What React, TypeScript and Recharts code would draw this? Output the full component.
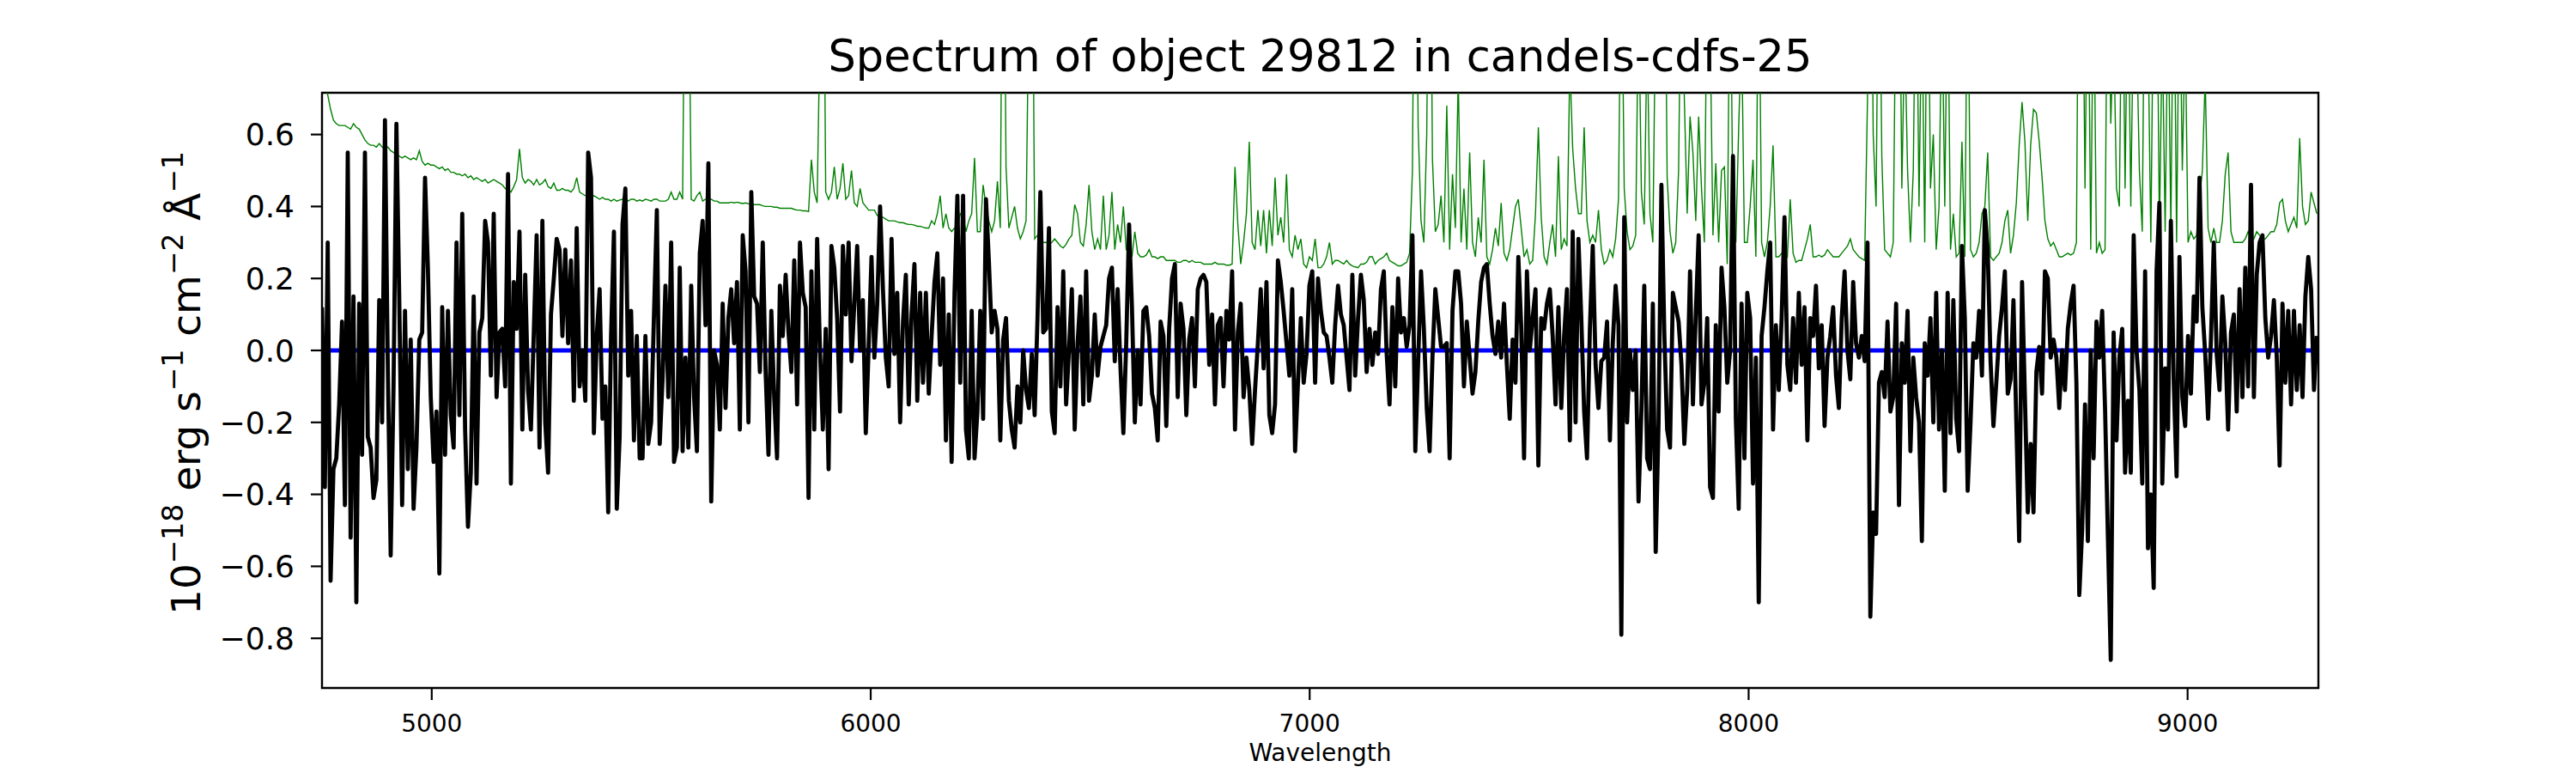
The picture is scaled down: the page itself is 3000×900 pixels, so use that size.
import { LineChart, Line, XAxis, YAxis, ReferenceArea } from 'recharts';

// wavelength grid of the extracted spectrum (Angstrom)
const WAVE_START = 4750;
const WAVE_STEP = 6.52;

const X_TICKS = [5000, 6000, 7000, 8000, 9000];
const Y_TICKS = [-0.8, -0.6, -0.4, -0.2, 0, 0.2, 0.4, 0.6];
const X_DOMAIN: [number, number] = [4750, 9298];
const Y_DOMAIN: [number, number] = [-0.938, 0.716];

// blue model line: flat at zero, starts a little after the first pixel
const MODEL_LEVEL = 0;
const MODEL_START = 4765;

// flux, 1e-18 erg/s/cm2/A in six chunks
const FLUX_A = [
  0.12, -0.38, 0.30, -0.64, -0.33, -0.30, -0.15, 0.08, -0.43, 0.55,
  -0.52, 0.15, -0.70, 0.13, -0.29, 0.55, -0.24, -0.27, -0.41, -0.36,
  0.14, -0.20, 0.64, -0.05, -0.57, -0.10, 0.63, 0.14, -0.43, 0.11,
  -0.33, 0.03, -0.44, -0.27, 0.03, 0.05, 0.48, 0.23, -0.13, -0.31,
  -0.17, -0.62, 0.12, -0.29, 0.11, -0.18, -0.27, 0.30, -0.18, 0.38,
  -0.22, -0.49, -0.34, 0.15, -0.37, 0.05, 0.09, 0.36, 0.30, -0.07,
  0.38, -0.13, 0.05, 0.06, -0.10, 0.49, -0.37, 0.19, 0.06, 0.33,
  -0.22, 0.21, -0.11, -0.22, 0.05, 0.32, -0.27, 0.36, -0.20, -0.34,
  0.10, 0.20, 0.31, 0.28, 0.04, 0.28, 0.02, 0.25, -0.14, 0.34,
  -0.10, 0.00, -0.14, 0.55, 0.48, -0.23, 0.04, 0.17, -0.19, -0.10,
  -0.45, 0.04, 0.33, -0.44, -0.24, 0.35, 0.45, -0.07, 0.11, -0.25,
  0.04, -0.30, -0.30, 0.04, -0.26, -0.20,
];
const FLUX_B = [
  0.10, 0.39, -0.26, -0.08, 0.18, -0.13, 0.30, -0.31, -0.27, 0.23,
  -0.28, -0.02, -0.27, 0.18, -0.13, -0.28, 0.27, 0.36, 0.07, 0.52,
  -0.42, 0.00, -0.04, -0.22, 0.13, -0.16, 0.09, 0.17, 0.02, 0.19,
  -0.22, 0.32, 0.22, -0.20, 0.44, 0.15, 0.13, -0.06, 0.30, -0.06,
  -0.29, 0.11, -0.13, -0.30, 0.18, 0.04, 0.21, 0.05, -0.06, 0.25,
  -0.15, 0.30, 0.16, 0.12, -0.41, 0.22, -0.22, 0.31, 0.00, -0.22,
  0.06, -0.33, 0.29, 0.23, 0.09, -0.17, 0.29, 0.10, 0.30, -0.03,
  0.13, 0.29, 0.00, 0.14, -0.23, 0.01, 0.26, -0.02, 0.13, 0.40,
  0.17, -0.02, -0.10, 0.31, -0.01, 0.16, -0.20, 0.08, 0.21, -0.15,
  0.10, 0.24, -0.14, 0.16, -0.09, 0.16, -0.12, 0.04, 0.19, 0.27,
  -0.04, 0.20, -0.25, 0.10, -0.31, 0.16, 0.43, -0.09, 0.43, -0.22,
  -0.30, 0.11, -0.30, -0.17, 0.11, -0.19, 0.42,
];
const FLUX_C = [
  0.25, 0.05, 0.11, 0.06, -0.25, 0.03, 0.09, -0.14, -0.22, -0.27,
  -0.10, -0.20, 0.00, -0.11, -0.16, -0.01, -0.18, 0.09, 0.44, 0.05,
  0.06, 0.34, -0.17, -0.23, 0.12, -0.10, 0.22, -0.15, 0.00, 0.17,
  -0.22, 0.02, 0.15, -0.15, 0.22, -0.14, -0.07, 0.10, -0.07, 0.01,
  0.04, 0.07, 0.20, 0.23, -0.03, 0.17, -0.05, -0.23, 0.02, 0.35,
  0.12, -0.20, 0.00, -0.15, 0.11, 0.12, 0.04, -0.12, -0.16, -0.25,
  0.08, 0.04, -0.21, 0.06, 0.20, 0.24, -0.13, 0.13, 0.06, -0.18,
  0.03, 0.09, -0.10, 0.17, 0.20, 0.21, 0.19, -0.04, 0.10, -0.15,
  0.07, 0.09, -0.10, 0.11, 0.03, 0.22, -0.22, 0.05, 0.13, -0.13,
  -0.02, -0.11, -0.26, -0.11, 0.02, 0.17, -0.05, 0.19, -0.18, -0.23,
  -0.15, 0.25, 0.19, 0.11, 0.02, -0.07, 0.17, -0.28, -0.09, 0.09,
  -0.09, -0.01, 0.18, 0.22, -0.09, 0.20, 0.11,
];
const FLUX_D = [
  0.05, 0.04, -0.02, -0.09, 0.07, 0.18, 0.10, 0.07, -0.02, -0.11,
  0.21, -0.07, 0.09, 0.21, 0.14, -0.06, 0.06, -0.04, 0.05, -0.01,
  0.17, 0.22, -0.01, -0.15, 0.12, -0.10, 0.20, 0.05, 0.09, 0.01,
  0.07, 0.32, -0.28, -0.03, 0.22, 0.06, -0.16, -0.28, -0.02, 0.17,
  0.09, 0.01, 0.01, 0.02, -0.30, 0.11, 0.22, 0.22, 0.13, -0.10,
  0.08, -0.02, -0.12, -0.06, 0.08, 0.19, 0.23, 0.24, 0.13, 0.04,
  -0.01, 0.08, -0.02, 0.13, -0.04, -0.19, 0.03, -0.09, 0.26, 0.07,
  -0.30, 0.22, 0.00, 0.09, 0.17, -0.32, 0.09, 0.06, 0.13, 0.17,
  0.04, -0.15, 0.12, -0.16, 0.04, 0.17, -0.25, 0.33, -0.20, 0.31,
  0.09, -0.17, -0.30, 0.06, 0.29, -0.04, -0.16, -0.03, -0.02, 0.08,
  -0.25, 0.02, 0.18, 0.07, -0.79, 0.37, -0.20, 0.00, -0.11, 0.00,
  -0.42, -0.17, 0.18, -0.30, -0.33, 0.13, -0.56,
];
const FLUX_E = [
  -0.20, 0.46, 0.05, -0.22, -0.27, 0.16, 0.12, 0.08, -0.04, -0.26,
  -0.11, 0.22, -0.15, 0.10, 0.32, -0.15, -0.09, 0.09, -0.38, -0.41,
  0.07, -0.17, 0.23, 0.12, -0.09, 0.00, 0.54, -0.19, -0.44, 0.13,
  -0.30, 0.16, 0.09, -0.37, -0.02, -0.70, 0.04, 0.12, 0.22, 0.30,
  -0.22, 0.07, -0.11, 0.09, 0.37, -0.04, -0.11, 0.09, -0.09, 0.16,
  -0.04, 0.12, -0.25, 0.09, 0.04, 0.18, -0.05, 0.07, -0.21, -0.02,
  0.04, 0.12, -0.07, -0.16, 0.09, 0.22, 0.00, -0.08, 0.19, 0.02,
  -0.02, 0.04, -0.03, 0.30, -0.74, -0.45, -0.51, -0.09, -0.06, -0.13,
  0.08, -0.17, -0.13, 0.13, -0.43, 0.02, -0.09, 0.11, -0.28, -0.02,
  -0.13, -0.20, -0.53, 0.02, -0.07, 0.09, -0.20, 0.16, -0.22, 0.00,
  -0.39, 0.16, -0.23, 0.14, -0.19, -0.28, 0.29, 0.09, -0.39, -0.20,
  0.02, -0.02, 0.11, -0.07, 0.39, 0.28, -0.03,
];
const FLUX_F = [
  -0.21, -0.09, 0.04, 0.12, 0.22, -0.12, -0.08, 0.14, -0.20, -0.53,
  0.19, -0.13, -0.45, -0.26, -0.45, -0.06, 0.01, -0.12, 0.22, 0.20,
  -0.02, 0.03, -0.02, -0.16, 0.00, -0.11, 0.06, 0.13, 0.18, -0.09,
  -0.68, -0.50, -0.15, -0.53, 0.00, -0.30, 0.08, -0.02, 0.11, -0.16,
  -0.52, -0.86, 0.05, -0.25, -0.02, 0.06, -0.34, -0.14, -0.34, 0.32,
  0.00, -0.11, -0.37, 0.22, -0.55, -0.40, -0.66, 0.22, 0.41, -0.37,
  -0.05, -0.22, 0.36, -0.09, -0.35, 0.26, -0.13, -0.21, 0.04, -0.12,
  0.15, 0.08, 0.48, 0.12, -0.01, -0.19, 0.03, 0.30, -0.01, -0.11,
  0.15, 0.02, -0.22, 0.05, 0.10, -0.17, 0.17, -0.13, 0.23, -0.10,
  0.46, -0.13, 0.21, 0.30, 0.32, 0.09, -0.02, 0.04, 0.14, -0.02,
  -0.32, 0.13, -0.09, 0.11, -0.15, 0.11, -0.11, 0.07, -0.13, 0.15,
  0.26, 0.17, -0.11, 0.04,
];

// noise / sky spectrum (green), same grid
const SKY_A = [
  0.80, 0.74, 0.71, 0.67, 0.64, 0.63, 0.625, 0.625, 0.625, 0.62,
  0.615, 0.63, 0.62, 0.615, 0.60, 0.585, 0.575, 0.57, 0.57, 0.565,
  0.575, 0.565, 0.56, 0.565, 0.555, 0.55, 0.545, 0.54, 0.535, 0.54,
  0.535, 0.53, 0.535, 0.53, 0.555, 0.525, 0.515, 0.52, 0.515, 0.515,
  0.51, 0.505, 0.51, 0.50, 0.505, 0.495, 0.495, 0.49, 0.49, 0.485,
  0.49, 0.48, 0.485, 0.475, 0.48, 0.475, 0.47, 0.475, 0.465, 0.47,
  0.475, 0.47, 0.465, 0.46, 0.45, 0.445, 0.44, 0.455, 0.475, 0.56,
  0.48, 0.465, 0.475, 0.47, 0.46, 0.475, 0.46, 0.465, 0.475, 0.455,
  0.45, 0.465, 0.445, 0.445, 0.45, 0.445, 0.445, 0.44, 0.45, 0.48,
  0.44, 0.435, 0.43, 0.43, 0.425, 0.43, 0.425, 0.42, 0.425, 0.42,
  0.42, 0.415, 0.42, 0.415, 0.418, 0.42, 0.425, 0.415, 0.42, 0.42,
  0.415, 0.418, 0.415, 0.42, 0.418, 0.415,
];
const SKY_B = [
  0.42, 0.42, 0.415, 0.415, 0.415, 0.42, 0.44, 0.42, 0.42, 0.44,
  0.42, 1.4, 1.2, 0.42, 0.415, 0.43, 0.44, 0.415, 0.42, 0.42,
  0.42, 0.415, 0.415, 0.41, 0.41, 0.41, 0.41, 0.412, 0.41, 0.412,
  0.41, 0.408, 0.41, 0.408, 0.405, 0.405, 0.405, 0.405, 0.402, 0.40,
  0.40, 0.40, 0.398, 0.398, 0.395, 0.395, 0.395, 0.395, 0.395, 0.392,
  0.39, 0.39, 0.388, 0.388, 0.386, 0.53, 0.44, 0.41, 0.9, 1.5,
  0.44, 0.42, 0.44, 0.51, 0.42, 0.45, 0.52, 0.42, 0.43, 0.50,
  0.41, 0.40, 0.45, 0.41, 0.40, 0.39, 0.39, 0.39, 0.375, 0.37,
  0.37, 0.365, 0.36, 0.36, 0.36, 0.357, 0.355, 0.355, 0.352, 0.35,
  0.35, 0.348, 0.345, 0.345, 0.342, 0.34, 0.34, 0.36, 0.35, 0.38,
  0.43, 0.34, 0.38, 0.34, 0.33, 0.34, 0.34, 0.38, 0.37, 0.33,
  0.36, 0.38, 0.535, 0.33, 0.33, 0.46, 0.40,
];
const SKY_C = [
  0.36, 0.33, 0.36, 0.47, 0.34, 1.6, 0.51, 0.34, 0.37, 0.40,
  0.34, 0.31, 0.33, 0.36, 1.0, 1.5, 0.31, 0.32, 0.31, 0.30,
  0.30, 0.295, 0.30, 0.31, 0.30, 0.29, 0.285, 0.295, 0.31, 0.32,
  0.405, 0.38, 0.30, 0.29, 0.35, 0.46, 0.33, 0.28, 0.31, 0.28,
  0.43, 0.28, 0.32, 0.44, 0.28, 0.35, 0.30, 0.40, 0.28, 0.28,
  0.26, 0.33, 0.27, 0.26, 0.26, 0.265, 0.28, 0.26, 0.26, 0.255,
  0.26, 0.26, 0.25, 0.25, 0.25, 0.25, 0.245, 0.245, 0.25, 0.25,
  0.245, 0.25, 0.245, 0.245, 0.245, 0.24, 0.24, 0.24, 0.24, 0.245,
  0.24, 0.24, 0.24, 0.237, 0.237, 0.24, 0.51, 0.35, 0.24, 0.30,
  0.38, 0.58, 0.30, 0.28, 0.39, 0.29, 0.39, 0.27, 0.39, 0.29,
  0.48, 0.32, 0.37, 0.30, 0.49, 0.28, 0.26, 0.32, 0.28, 0.31,
  0.24, 0.23, 0.26, 0.25, 0.31, 0.23, 0.23,
];
const SKY_D = [
  0.24, 0.26, 0.30, 0.24, 0.25, 0.25, 0.245, 0.24, 0.25, 0.24,
  0.235, 0.232, 0.23, 0.24, 0.24, 0.245, 0.26, 0.26, 0.24, 0.25,
  0.255, 0.26, 0.27, 0.25, 0.245, 0.24, 0.235, 0.235, 0.24, 0.245,
  0.27, 0.5, 1.6, 0.62, 0.36, 0.30, 0.6, 1.5, 0.53, 0.33,
  0.35, 0.43, 0.30, 0.68, 0.28, 0.49, 0.34, 0.76, 0.30, 0.45,
  0.28, 0.55, 0.30, 0.26, 0.37, 0.30, 0.53, 0.26, 0.24, 0.28,
  0.34, 0.29, 0.41, 0.27, 0.25, 0.28, 0.34, 0.40, 0.42, 0.34,
  0.26, 0.28, 0.24, 0.25, 0.38, 0.62, 0.37, 0.26, 0.24, 0.30,
  0.35, 0.26, 0.54, 0.28, 0.31, 0.29, 0.80, 0.56, 0.45, 0.38,
  0.38, 0.62, 0.36, 0.30, 0.32, 0.30, 0.39, 0.28, 0.24, 0.25,
  0.28, 0.26, 0.31, 0.42, 1.2, 0.45, 0.33, 0.28, 0.29, 0.32,
  1.0, 0.44, 0.35, 0.9, 0.38, 0.30, 1.0,
];
const SKY_E = [
  1.3, 0.9, 1.4, 0.48, 0.33, 0.27, 0.30, 0.50, 1.2, 0.70,
  0.38, 0.65, 0.55, 0.36, 0.65, 0.45, 0.30, 1.1, 0.9, 0.32,
  0.52, 0.30, 0.50, 0.51, 0.24, 1.2, 0.34, 0.30, 0.62, 0.9,
  0.30, 0.30, 0.40, 0.53, 0.26, 1.2, 0.30, 0.26, 0.30, 0.40,
  0.57, 0.26, 0.26, 0.27, 0.27, 0.26, 0.42, 0.27, 0.245, 0.25,
  0.25, 0.28, 0.31, 0.35, 0.26, 0.26, 0.265, 0.26, 0.265, 0.28,
  0.27, 0.26, 0.26, 0.26, 0.27, 0.28, 0.29, 0.31, 0.28, 0.27,
  0.26, 0.255, 0.25, 0.7, 1.5, 0.6, 0.40, 1.3, 0.54, 0.28,
  0.27, 0.26, 0.30, 1.1, 1.3, 0.45, 0.9, 0.50, 0.30, 0.50,
  1.2, 0.40, 1.0, 0.30, 1.3, 0.45, 0.60, 0.28, 0.40, 1.0,
  0.40, 1.1, 0.28, 0.38, 0.26, 0.27, 0.58, 0.26, 1.2, 0.28,
  0.26, 0.27, 0.30, 0.38, 0.40, 0.55, 0.26,
];
const SKY_F = [
  0.25, 0.26, 0.27, 0.30, 0.36, 0.39, 0.27, 0.32, 0.41, 0.57,
  0.69, 0.58, 0.36, 0.57, 0.67, 0.66, 0.58, 0.48, 0.36, 0.31,
  0.29, 0.30, 0.28, 0.26, 0.26, 0.265, 0.27, 0.265, 0.27, 0.30,
  1.5, 1.3, 0.45, 1.2, 0.28, 1.1, 0.27, 0.30, 0.27, 0.28,
  1.3, 0.63, 0.9, 0.45, 0.40, 1.2, 0.45, 1.1, 0.40, 1.0,
  0.9, 0.50, 0.33, 1.3, 0.9, 0.30, 1.1, 1.2, 0.33, 0.9,
  0.33, 1.0, 0.33, 1.2, 0.30, 1.1, 0.50, 0.9, 0.30, 0.33,
  0.31, 0.32, 0.42, 0.50, 0.76, 0.34, 0.30, 0.34, 0.30, 0.30,
  0.36, 0.49, 0.55, 0.33, 0.30, 0.30, 0.30, 0.30, 0.31, 0.33,
  0.31, 0.31, 0.33, 0.32, 0.31, 0.31, 0.32, 0.33, 0.33, 0.35,
  0.41, 0.42, 0.36, 0.33, 0.35, 0.37, 0.34, 0.59, 0.40, 0.35,
  0.36, 0.44, 0.41, 0.38,
];

const FLUX = [...FLUX_A, ...FLUX_B, ...FLUX_C, ...FLUX_D, ...FLUX_E, ...FLUX_F];
const SKY = [...SKY_A, ...SKY_B, ...SKY_C, ...SKY_D, ...SKY_E, ...SKY_F];

const data = FLUX.map((flux, i) => {
  const wl = WAVE_START + i * WAVE_STEP;
  return { wl, flux, sky: SKY[i], model: wl >= MODEL_START ? MODEL_LEVEL : null };
});

const FONT = '"DejaVu Sans", sans-serif';

function fmtY(v: number) {
  const s = Math.abs(v).toFixed(1);
  return v < 0 ? '\u2212' + s : s;
}

const supStyle = { fontSize: '0.7em', verticalAlign: '0.6em', lineHeight: 0 } as const;

export default function App() {
  return (
    <div style={{ position: 'absolute', left: 0, top: 0, width: 3000, height: 900, background: '#fff', fontFamily: FONT, color: '#000' }}>
      <LineChart width={3000} height={900} data={data} margin={{ top: 108, right: 300, bottom: 39, left: 0 }}>
        <XAxis
          dataKey="wl"
          type="number"
          domain={X_DOMAIN}
          ticks={X_TICKS}
          interval={0}
          allowDataOverflow
          axisLine={false}
          tickLine={{ stroke: '#000', strokeWidth: 2.2 }}
          tickSize={14}
          tickMargin={17}
          height={60}
          tick={{ fill: '#000', fontSize: 28, fontFamily: FONT }}
        />
        <YAxis
          type="number"
          domain={Y_DOMAIN}
          ticks={Y_TICKS}
          interval={0}
          allowDataOverflow
          axisLine={false}
          tickLine={{ stroke: '#000', strokeWidth: 2.2 }}
          tickSize={13}
          tickMargin={19}
          width={375}
          tickFormatter={fmtY}
          tick={{ fill: '#000', fontSize: 36, fontFamily: FONT }}
        />
        <Line dataKey="sky" type="linear" stroke="#008000" strokeWidth={1.4} dot={false} activeDot={false} isAnimationActive={false} />
        <Line dataKey="model" type="linear" stroke="#0000ff" strokeWidth={5.2} dot={false} activeDot={false} isAnimationActive={false} />
        <Line dataKey="flux" type="linear" stroke="#000" strokeWidth={4.8} strokeLinejoin="round" dot={false} activeDot={false} isAnimationActive={false} />
        <ReferenceArea x1={X_DOMAIN[0]} x2={X_DOMAIN[1]} y1={Y_DOMAIN[0]} y2={Y_DOMAIN[1]} fill="none" stroke="#000" strokeWidth={2.4} fillOpacity={0} />
      </LineChart>

      <div style={{ position: 'absolute', left: 537.5, top: 36, width: 2000, height: 60, lineHeight: '60px', textAlign: 'center', fontSize: 51, whiteSpace: 'nowrap' }}>
        Spectrum of object 29812 in candels-cdfs-25
      </div>
      <div style={{ position: 'absolute', left: 1137.5, top: 857, width: 800, height: 40, lineHeight: '40px', textAlign: 'center', fontSize: 28 }}>
        Wavelength
      </div>
      <div style={{ position: 'absolute', left: 217 - 350, top: 446 - 30, width: 700, height: 60, lineHeight: '60px', textAlign: 'center', fontSize: 47, whiteSpace: 'nowrap', transform: 'rotate(-90deg)' }}>
        10<span style={supStyle}>{'\u221218'}</span> erg s<span style={supStyle}>{'\u22121'}</span> cm<span style={supStyle}>{'\u22122'}</span> Å<span style={supStyle}>{'\u22121'}</span>
      </div>
    </div>
  );
}
